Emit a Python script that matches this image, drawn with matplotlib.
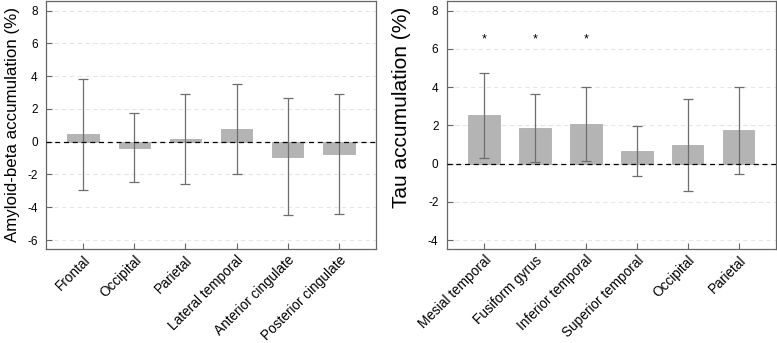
import numpy as np
import matplotlib
matplotlib.use("Agg")
import matplotlib.pyplot as plt

plt.rcParams['font.family'] = ['Liberation Sans', 'DejaVu Sans']

# Amyloid-beta panel
amy_regions = ['Frontal', 'Occipital', 'Parietal', 'Lateral temporal',
               'Anterior cingulate', 'Posterior cingulate']
amy_mean = [0.45, -0.36, 0.16, 0.77, -0.91, -0.75]
amy_sd = [3.38, 2.12, 2.76, 2.77, 3.56, 3.68]

# Tau panel
tau_regions = ['Mesial temporal', 'Fusiform gyrus', 'Inferior temporal',
               'Superior temporal', 'Occipital', 'Parietal']
tau_mean = [2.52, 1.84, 2.07, 0.68, 0.99, 1.74]
tau_sd = [2.21, 1.78, 1.96, 1.31, 2.40, 2.28]
tau_signif = [True, True, True, False, False, False]

fig = plt.figure(figsize=(7.77, 3.43), dpi=100)
ax1 = fig.add_axes([0.0592, 0.274, 0.4247, 0.724])
ax2 = fig.add_axes([0.575, 0.274, 0.4234, 0.724])


def panel(ax, labels, means, sds, ylim, yticks, ylabel, lsize, lpad):
    x = np.arange(len(labels))
    for y in yticks:
        ax.axhline(y, color='#e6e6e6', lw=0.8, ls=(0, (4, 3)), zorder=0)
    ax.bar(x, means, width=0.62, color='#b4b4b4', edgecolor='#a8a8a8',
           linewidth=0.5, zorder=2)
    ax.errorbar(x, means, yerr=sds, fmt='none', ecolor='#6e6e6e',
                elinewidth=0.9, capsize=3.5, capthick=0.9, zorder=3)
    ax.axhline(0, color='black', lw=0.9, ls=(0, (4, 3)), zorder=4)
    ax.set_xlim(-0.73, len(labels) - 0.27)
    ax.set_ylim(*ylim)
    ax.set_yticks(yticks)
    ax.set_yticklabels([str(t) for t in yticks], fontsize=8.5)
    ax.set_xticks(x)
    ax.set_xticklabels(labels, rotation=45, ha='right', rotation_mode='anchor',
                       fontsize=9.8)
    ax.tick_params(direction='in', length=4, color='#666666', width=0.8)
    ax.tick_params(axis='y', pad=6)
    ax.tick_params(axis='x', pad=3)
    for s in ax.spines.values():
        s.set_color('#666666')
        s.set_linewidth(0.9)
    ax.set_ylabel(ylabel, fontsize=lsize, labelpad=lpad)


panel(ax1, amy_regions, amy_mean, amy_sd, (-6.55, 8.6),
      [-6, -4, -2, 0, 2, 4, 6, 8], 'Amyloid-beta accumulation (%)', 12.2, 5)
panel(ax2, tau_regions, tau_mean, tau_sd, (-4.47, 8.52),
      [-4, -2, 0, 2, 4, 6, 8], 'Tau accumulation (%)', 15, 3)
ax2.yaxis.set_label_coords(-0.108, 0.57)

for i, sig in enumerate(tau_signif):
    if sig:
        ax2.text(i, 6.47, '*', ha='center', va='center', fontsize=9)

fig.savefig('out.png', dpi=100)
